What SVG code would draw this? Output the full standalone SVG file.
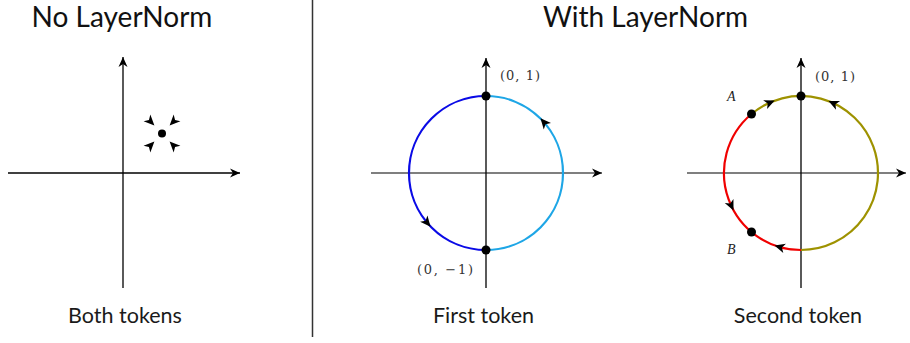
<svg xmlns="http://www.w3.org/2000/svg" width="910" height="343" viewBox="0 0 910 343">
<style>
.title{font-family:Lato,"Noto Sans",sans-serif;font-size:28px;fill:#111;text-anchor:middle}
.cap{font-family:Lato,"Noto Sans",sans-serif;font-size:21.5px;fill:#1a1a1a;text-anchor:middle}
.math{font-family:"DejaVu Serif","Liberation Serif",serif;font-size:13px;fill:#333}
.var{font-family:"Liberation Serif","DejaVu Serif",serif;font-style:italic;font-size:14px;fill:#222}
.ax{stroke:#000;stroke-width:1.3;fill:none;marker-end:url(#ah)}
.axh{stroke:#555;stroke-width:1.5;fill:none;marker-end:url(#ah)}
.arc{fill:none;stroke-width:2.2}
.dot{fill:#000}
</style>
<defs>
<marker id="ah" viewBox="-11 -5 12 10" markerWidth="12" markerHeight="10" refX="0" refY="0" orient="auto" markerUnits="userSpaceOnUse" overflow="visible">
<path d="M0,0 L-10,-4.5 L-7,0 L-10,4.5 Z" fill="#000"/>
</marker>
<path id="mh" d="M5.5,0 L-5,-4.8 L-2.2,0 L-5,4.8 Z" fill="#000"/>
</defs>

<line x1="312.5" y1="0" x2="312.5" y2="337" stroke="#333" stroke-width="1.5"/>

<g id="panel-no-layernorm">
<text class="title" x="122" y="27">No LayerNorm</text>
<path class="ax" d="M8,173 L240,173"/>
<path class="ax" d="M123,288 L123,57"/>
<circle class="dot" cx="162" cy="133.5" r="4"/>
<use href="#mh" transform="translate(150.5,121.5) rotate(45)"/>
<use href="#mh" transform="translate(173.5,121.5) rotate(135)"/>
<use href="#mh" transform="translate(150.5,145.5) rotate(-45)"/>
<use href="#mh" transform="translate(173.5,145.5) rotate(-135)"/>
<text class="cap" x="125" y="323">Both tokens</text>
</g>

<text class="title" x="645.5" y="27">With LayerNorm</text>

<g id="panel-first-token">
<path class="axh" d="M371,173 L602,173"/>
<path class="ax" d="M486,288 L486,58"/>
<path class="arc" stroke="#1ea6e6" d="M486,96 A77,77 0 0 1 486,250"/>
<path class="arc" stroke="#0a0ae6" d="M486,96 A77,77 0 0 0 486,250"/>
<use href="#mh" transform="translate(544.1,122.5) rotate(-131)"/>
<use href="#mh" transform="translate(427,222.5) rotate(50)"/>
<circle class="dot" cx="486" cy="96" r="4.5"/>
<circle class="dot" cx="486" cy="250" r="4.5"/>
<text class="math" x="500" y="80" textLength="40" lengthAdjust="spacing">(0, 1)</text>
<text class="math" x="417" y="274" textLength="56" lengthAdjust="spacing">(0, −1)</text>
<text class="cap" x="483.5" y="323">First token</text>
</g>

<g id="panel-second-token">
<path class="axh" d="M687,173 L906,173"/>
<path class="ax" d="M801,288 L801,58"/>
<path class="arc" stroke="#9e9200" d="M751.5,114 A77,77 0 1 1 801,250"/>
<path class="arc" stroke="#f00000" d="M751.5,114 A77,77 0 0 0 801,250"/>
<use href="#mh" transform="translate(769.7,102.7) rotate(-24)"/>
<use href="#mh" transform="translate(833.5,103.2) rotate(-155)"/>
<use href="#mh" transform="translate(731.2,205.5) rotate(65)"/>
<use href="#mh" transform="translate(779.8,247) rotate(-164)"/>
<circle class="dot" cx="801" cy="96" r="4.5"/>
<circle class="dot" cx="751.5" cy="114" r="4.5"/>
<circle class="dot" cx="751.5" cy="232" r="4.5"/>
<text class="math" x="815" y="81" textLength="40" lengthAdjust="spacing">(0, 1)</text>
<text class="var" x="727" y="101">A</text>
<text class="var" x="727" y="254">B</text>
<text class="cap" x="798" y="323">Second token</text>
</g>
</svg>
